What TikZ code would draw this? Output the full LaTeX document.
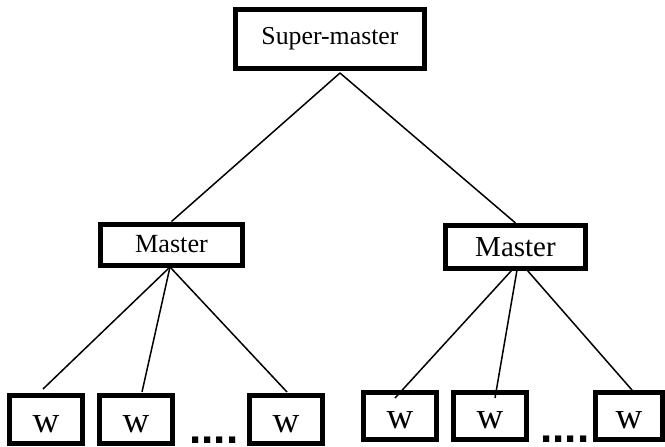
\documentclass[tikz,border=0pt]{standalone}
\usepackage{fontspec}
\setmainfont{Liberation Serif}
\newfontfamily\dotsfont{Liberation Sans}
\usetikzlibrary{calc}
\tikzset{
  box/.style={draw=black, line width=2.5pt, inner sep=0pt, fill=white},
  wbox/.style={box, minimum width=36.5pt, font=\fontsize{18.5}{20}\selectfont},
  link/.style={draw=black, line width=0.75pt},
  dots/.style={inner sep=0pt, anchor=base west, font=\dotsfont\bfseries\fontsize{22}{22}\selectfont}
}
\newcommand{\wlabel}{\raisebox{-2pt}[\height][0pt]{w}}
\begin{document}
\begin{tikzpicture}[x=0.5pt,y=-0.5pt]
\useasboundingbox (0,0) rectangle (665,446);
% nodes
\node[box, minimum width=94.5pt, minimum height=29.5pt, font=\fontsize{12.9}{14}\selectfont] (sm) at (330,39) {Super-master};
\node[box, minimum width=71pt, minimum height=20.5pt, font=\fontsize{13.1}{14}\selectfont] (mL) at (171.5,244.5) {Master};
\node[box, minimum width=70pt, minimum height=21.5pt, font=\fontsize{14.5}{16}\selectfont] (mR) at (515.5,247) {Master};
\node[wbox, minimum height=24pt] (w1) at (46,419.5) {\wlabel};
\node[wbox, minimum height=24pt] (w2) at (136,419.5) {\wlabel};
\node[wbox, minimum height=24pt] (w3) at (286,419.5) {\wlabel};
\node[wbox, minimum height=23.5pt] (w4) at (400,416) {\wlabel};
\node[wbox, minimum height=23.5pt] (w5) at (490,416) {\wlabel};
\node[wbox, minimum height=23.5pt, minimum width=33.5pt] (w6) at (629,416) {\wlabel};
\node[dots] (d1) at (189,443) {....};
\node[dots] (d2) at (540,442) {....};
% connector points
\coordinate (smA) at (340,73);
\coordinate (mLs) at (170,267);
\coordinate (mRa) at (512,270);
\coordinate (mRb) at (517,270);
\coordinate (mRc) at (527,270);
\coordinate (w1t) at (43,389);
\coordinate (w2t) at (142,392);
\coordinate (w3t) at (287,392);
\coordinate (w4t) at (395,398);
\coordinate (w5t) at (495,398);
\coordinate (w6t) at (632,390);
% connectors
\draw[link] (smA) -- (mL.north);
\draw[link] (smA) -- (mR.north);
\draw[link] (mLs) -- (w1t);
\draw[link] (mLs) -- (w2t);
\draw[link] (mLs) -- (w3t);
\draw[link] (mRa) -- (w4t);
\draw[link] (mRb) -- (w5t);
\draw[link] (mRc) -- (w6t);
\end{tikzpicture}
\end{document}
